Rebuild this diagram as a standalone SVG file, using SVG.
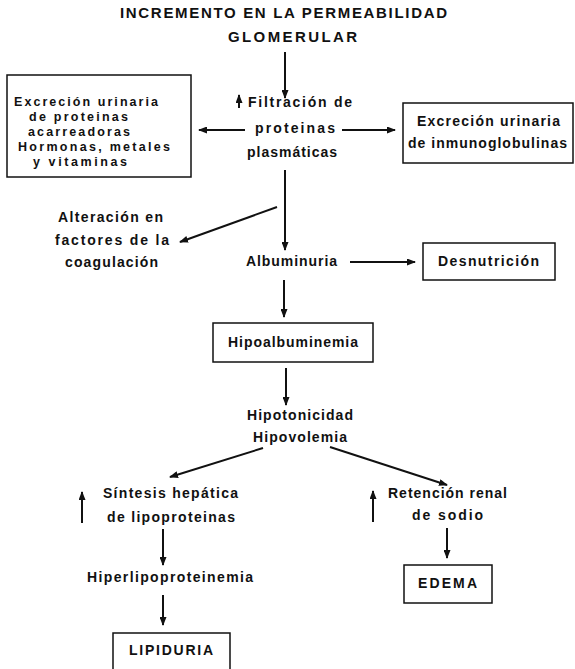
<svg xmlns="http://www.w3.org/2000/svg" width="575" height="669" viewBox="0 0 575 669">
<style>
  text { font-family: "Liberation Sans", Arial, sans-serif; font-weight: bold; font-size: 14px; fill: #111; }
  .t { font-size: 15px; }
  .s { font-size: 12.5px; }
  .box { fill: none; stroke: #111; stroke-width: 1.5; }
  .c line { stroke: #111; stroke-width: 2; marker-end: url(#ah); }
</style>
<defs>
  <marker id="ah" markerUnits="userSpaceOnUse" markerWidth="9" markerHeight="7" refX="8" refY="3.5" orient="auto">
    <path d="M0,0 L9,3.5 L0,7 z" fill="#111"/>
  </marker>
</defs>
<rect width="575" height="669" fill="#fff"/>

<g id="titulo">
  <text class="t" x="120" y="18" textLength="327" lengthAdjust="spacing">INCREMENTO EN LA PERMEABILIDAD</text>
  <text class="t" x="228" y="42" textLength="129" lengthAdjust="spacing">GLOMERULAR</text>
</g>

<g id="filtracion">
  <text x="248" y="107" textLength="104" lengthAdjust="spacing">Filtración de</text>
  <text x="255" y="133" textLength="80" lengthAdjust="spacing">proteinas</text>
  <text x="247" y="157" textLength="90" lengthAdjust="spacing">plasmáticas</text>
</g>

<g id="excrecion-acarreadoras">
  <rect class="box" x="7" y="75" width="184" height="102"/>
  <text class="s" x="14" y="106" textLength="144" lengthAdjust="spacing">Excreción urinaria</text>
  <text class="s" x="29" y="121" textLength="99" lengthAdjust="spacing">de proteinas</text>
  <text class="s" x="28" y="136" textLength="102" lengthAdjust="spacing">acarreadoras</text>
  <text class="s" x="18" y="151" textLength="152" lengthAdjust="spacing">Hormonas, metales</text>
  <text class="s" x="33" y="166" textLength="94" lengthAdjust="spacing">y vitaminas</text>
</g>

<g id="excrecion-inmunoglobulinas">
  <rect class="box" x="403" y="103" width="170" height="60"/>
  <text x="417" y="126" textLength="143" lengthAdjust="spacing">Excreción urinaria</text>
  <text x="408" y="148" textLength="159" lengthAdjust="spacing">de inmunoglobulinas</text>
</g>

<g id="alteracion">
  <text x="58" y="222" textLength="105" lengthAdjust="spacing">Alteración en</text>
  <text x="55" y="245" textLength="114" lengthAdjust="spacing">factores de la</text>
  <text x="65" y="267" textLength="93" lengthAdjust="spacing">coagulación</text>
</g>

<g id="albuminuria">
  <text x="246" y="266" textLength="91" lengthAdjust="spacing">Albuminuria</text>
</g>

<g id="desnutricion">
  <rect class="box" x="423" y="243" width="132" height="37"/>
  <text x="438" y="266" textLength="101" lengthAdjust="spacing">Desnutrición</text>
</g>

<g id="hipoalbuminemia">
  <rect class="box" x="213" y="323" width="160" height="39"/>
  <text x="228" y="347" textLength="130" lengthAdjust="spacing">Hipoalbuminemia</text>
</g>

<g id="hipotonicidad">
  <text x="247" y="420" textLength="106" lengthAdjust="spacing">Hipotonicidad</text>
  <text x="253" y="442" textLength="94" lengthAdjust="spacing">Hipovolemia</text>
</g>

<g id="sintesis">
  <text x="103" y="498" textLength="135" lengthAdjust="spacing">Síntesis hepática</text>
  <text x="107" y="522" textLength="128" lengthAdjust="spacing">de lipoproteinas</text>
</g>

<g id="retencion">
  <text x="388" y="498" textLength="119" lengthAdjust="spacing">Retención renal</text>
  <text x="412" y="520" textLength="71" lengthAdjust="spacing">de sodio</text>
</g>

<g id="hiperlipoproteinemia">
  <text x="87" y="582" textLength="166" lengthAdjust="spacing">Hiperlipoproteinemia</text>
</g>

<g id="edema">
  <rect class="box" x="404" y="565" width="88" height="38"/>
  <text x="418" y="588" textLength="59" lengthAdjust="spacing">EDEMA</text>
</g>

<g id="lipiduria">
  <path class="box" d="M113,675 V633 H230 V675"/>
  <text x="129" y="655" textLength="84" lengthAdjust="spacing">LIPIDURIA</text>
</g>

<g id="conectores" class="c">
  <line x1="285" y1="52" x2="285" y2="98"/>
  <line x1="239" y1="108" x2="239" y2="95"/>
  <line x1="245" y1="130" x2="199" y2="130"/>
  <line x1="342" y1="130" x2="395" y2="130"/>
  <line x1="285" y1="170" x2="285" y2="250"/>
  <line x1="277" y1="207" x2="180" y2="242"/>
  <line x1="350" y1="262" x2="415" y2="262"/>
  <line x1="284" y1="280" x2="284" y2="317"/>
  <line x1="286" y1="368" x2="286" y2="405"/>
  <line x1="263" y1="448" x2="170" y2="477"/>
  <line x1="330" y1="447" x2="447" y2="485"/>
  <line x1="82" y1="523" x2="82" y2="492"/>
  <line x1="373" y1="522" x2="373" y2="491"/>
  <line x1="163" y1="529" x2="163" y2="565"/>
  <line x1="163" y1="595" x2="163" y2="625"/>
  <line x1="447" y1="528" x2="447" y2="558"/>
</g>
</svg>
